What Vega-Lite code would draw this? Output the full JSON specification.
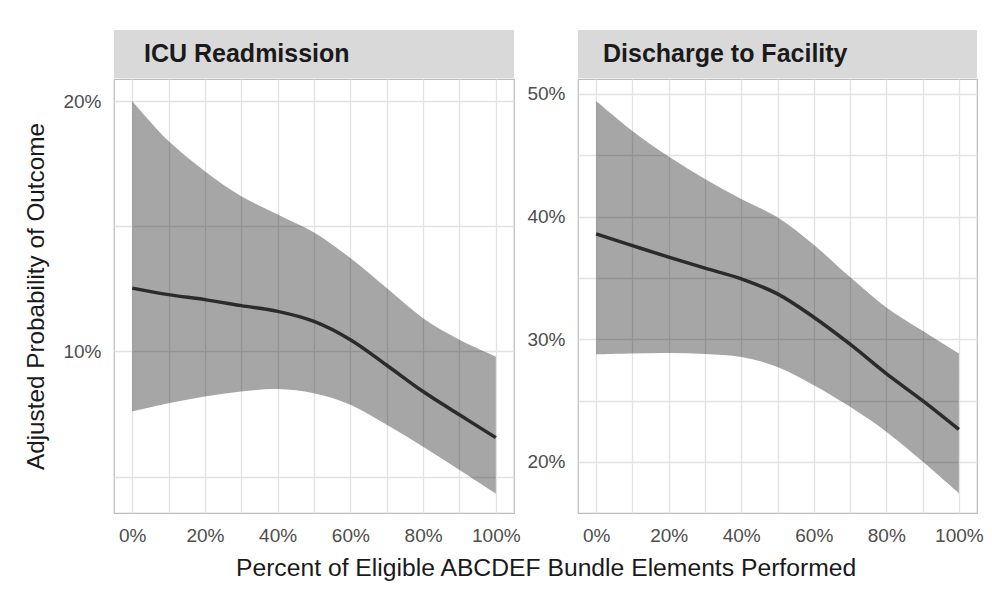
{
  "$schema": "https://vega.github.io/schema/vega-lite/v6.json",
  "background": "white",
  "padding": {"left": 24, "top": 30, "right": 5, "bottom": 5},
  "data": {"values": [
    {"panel": "ICU Readmission", "x": 0, "lo": 7.6, "est": 12.53, "hi": 20.0},
    {"panel": "ICU Readmission", "x": 10, "lo": 7.93, "est": 12.27, "hi": 18.4},
    {"panel": "ICU Readmission", "x": 20, "lo": 8.2, "est": 12.07, "hi": 17.2},
    {"panel": "ICU Readmission", "x": 30, "lo": 8.4, "est": 11.83, "hi": 16.2},
    {"panel": "ICU Readmission", "x": 40, "lo": 8.5, "est": 11.6, "hi": 15.47},
    {"panel": "ICU Readmission", "x": 50, "lo": 8.33, "est": 11.2, "hi": 14.75},
    {"panel": "ICU Readmission", "x": 60, "lo": 7.87, "est": 10.47, "hi": 13.73},
    {"panel": "ICU Readmission", "x": 70, "lo": 7.07, "est": 9.45, "hi": 12.53},
    {"panel": "ICU Readmission", "x": 80, "lo": 6.2, "est": 8.4, "hi": 11.33},
    {"panel": "ICU Readmission", "x": 90, "lo": 5.27, "est": 7.47, "hi": 10.47},
    {"panel": "ICU Readmission", "x": 100, "lo": 4.33, "est": 6.56, "hi": 9.8},
    {"panel": "Discharge to Facility", "x": 0, "lo": 28.78, "est": 38.59, "hi": 49.43},
    {"panel": "Discharge to Facility", "x": 10, "lo": 28.85, "est": 37.64, "hi": 46.99},
    {"panel": "Discharge to Facility", "x": 20, "lo": 28.89, "est": 36.7, "hi": 44.9},
    {"panel": "Discharge to Facility", "x": 30, "lo": 28.8, "est": 35.8, "hi": 43.06},
    {"panel": "Discharge to Facility", "x": 40, "lo": 28.56, "est": 34.93, "hi": 41.43},
    {"panel": "Discharge to Facility", "x": 50, "lo": 27.75, "est": 33.7, "hi": 39.94},
    {"panel": "Discharge to Facility", "x": 60, "lo": 26.26, "est": 31.8, "hi": 37.7},
    {"panel": "Discharge to Facility", "x": 70, "lo": 24.5, "est": 29.6, "hi": 35.07},
    {"panel": "Discharge to Facility", "x": 80, "lo": 22.47, "est": 27.2, "hi": 32.6},
    {"panel": "Discharge to Facility", "x": 90, "lo": 20.03, "est": 25.0, "hi": 30.7},
    {"panel": "Discharge to Facility", "x": 100, "lo": 17.45, "est": 22.65, "hi": 28.85}
  ]},
  "title": {
    "text": "Percent of Eligible ABCDEF Bundle Elements Performed",
    "orient": "bottom", "anchor": "middle", "dx": 42, "offset": 10,
    "font": "Liberation Sans", "fontSize": 24.7, "fontWeight": "normal", "color": "#1a1a1a"
  },
  "spacing": 5,
  "hconcat": [
    {
      "spacing": 0,
      "vconcat": [
        {
          "width": 400, "height": 48,
          "transform": [{"filter": "datum.panel == 'ICU Readmission' && datum.x == 0"}],
          "title": {"text": "ICU Readmission", "anchor": "start", "frame": "group", "offset": -37, "dx": 30,
                    "font": "Liberation Sans", "fontSize": 25, "fontWeight": "bold", "color": "#1a1a1a"},
          "mark": {"type": "rect", "fill": "#d9d9d9"},
          "encoding": {}
        },
        {
          "width": 400, "height": 434,
          "transform": [{"filter": "datum.panel == 'ICU Readmission'"}],
          "encoding": {
            "x": {"field": "x", "type": "quantitative",
                  "scale": {"domain": [-5, 105], "nice": false, "zero": false},
                  "axis": {"values": [0,10,20,30,40,50,60,70,80,90,100],
                           "labelExpr": "datum.value % 20 == 0 ? datum.value + '%' : ''", "title": null}}
          },
          "layer": [
            {
              "mark": {"type": "area", "color": "#000000", "opacity": 0.35, "interpolate": "catmull-rom"},
              "encoding": {
                "y": {"field": "lo", "type": "quantitative",
                      "scale": {"domain": [3.55, 20.88], "nice": false, "zero": false},
                      "axis": {"values": [5, 10, 15, 20], "labelExpr": "datum.value % 10 == 0 ? datum.value + '%' : ''",
                               "title": "Adjusted Probability of Outcome"}},
                "y2": {"field": "hi"}
              }
            },
            {
              "mark": {"type": "line", "color": "#2b2b2b", "strokeWidth": 3.5, "interpolate": "catmull-rom"},
              "encoding": {
                "y": {"field": "est", "type": "quantitative",
                      "scale": {"domain": [3.55, 20.88], "nice": false, "zero": false},
                      "axis": {"values": [5, 10, 15, 20], "labelExpr": "datum.value % 10 == 0 ? datum.value + '%' : ''",
                               "title": "Adjusted Probability of Outcome"}}
              }
            }
          ]
        }
      ]
    },
    {
      "spacing": 0,
      "vconcat": [
        {
          "width": 399, "height": 48,
          "transform": [{"filter": "datum.panel == 'Discharge to Facility' && datum.x == 0"}],
          "title": {"text": "Discharge to Facility", "anchor": "start", "frame": "group", "offset": -37, "dx": 25,
                    "font": "Liberation Sans", "fontSize": 25, "fontWeight": "bold", "color": "#1a1a1a"},
          "mark": {"type": "rect", "fill": "#d9d9d9"},
          "encoding": {}
        },
        {
          "width": 399, "height": 434,
          "transform": [{"filter": "datum.panel == 'Discharge to Facility'"}],
          "encoding": {
            "x": {"field": "x", "type": "quantitative",
                  "scale": {"domain": [-5, 105], "nice": false, "zero": false},
                  "axis": {"values": [0,10,20,30,40,50,60,70,80,90,100],
                           "labelExpr": "datum.value % 20 == 0 ? datum.value + '%' : ''", "title": null}}
          },
          "layer": [
            {
              "mark": {"type": "area", "color": "#000000", "opacity": 0.35, "interpolate": "catmull-rom"},
              "encoding": {
                "y": {"field": "lo", "type": "quantitative",
                      "scale": {"domain": [15.84, 51.22], "nice": false, "zero": false},
                      "axis": {"values": [20, 25, 30, 35, 40, 45, 50], "labelExpr": "datum.value % 10 == 0 ? datum.value + '%' : ''",
                               "title": null}},
                "y2": {"field": "hi"}
              }
            },
            {
              "mark": {"type": "line", "color": "#2b2b2b", "strokeWidth": 3.5, "interpolate": "catmull-rom"},
              "encoding": {
                "y": {"field": "est", "type": "quantitative",
                      "scale": {"domain": [15.84, 51.22], "nice": false, "zero": false},
                      "axis": {"values": [20, 25, 30, 35, 40, 45, 50], "labelExpr": "datum.value % 10 == 0 ? datum.value + '%' : ''",
                               "title": null}}
              }
            }
          ]
        }
      ]
    }
  ],
  "config": {
    "view": {"stroke": "#bdbdbd", "strokeWidth": 1.2},
    "axis": {
      "domain": false, "ticks": false,
      "grid": true, "gridColor": "#e2e2e2", "gridWidth": 1.3,
      "labelFont": "Liberation Sans", "labelFontSize": 19, "labelColor": "#4d4d4d", "labelPadding": 13,
      "titleFont": "Liberation Sans", "titleFontSize": 24.3, "titleFontWeight": "normal", "titleColor": "#1a1a1a", "titlePadding": 14
    }
  }
}
